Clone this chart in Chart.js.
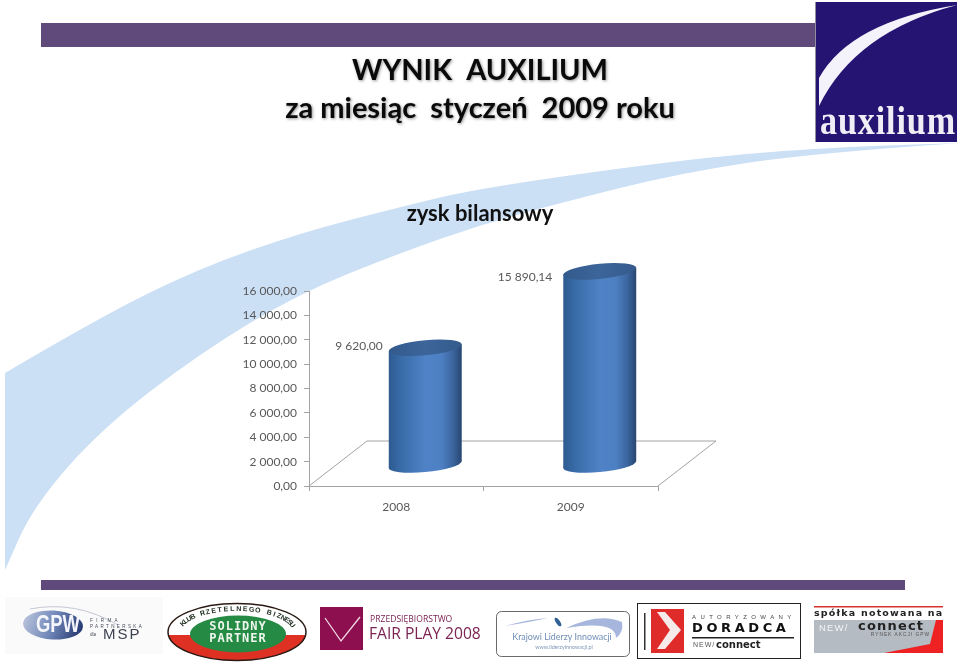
<!DOCTYPE html>
<html><head><meta charset="utf-8">
<style>html,body{margin:0;padding:0;background:#fff;overflow:hidden}canvas{display:block}</style>
<script src="https://cdn.jsdelivr.net/npm/chart.js@4"></script>
</head><body><canvas id="c" width="960" height="666"></canvas>
<script>
const categories = ['2008', '2009'];
const seriesValues = [9620.00, 15890.14];
const valueLabels = ['9 620,00', '15 890,14'];
const yTickLabels = ['0,00', '2 000,00', '4 000,00', '6 000,00', '8 000,00', '10 000,00', '12 000,00', '14 000,00', '16 000,00'];
const titleLines = ['WYNIK  AUXILIUM', 'za miesiąc  styczeń  2009 roku'];
const subtitleText = 'zysk bilansowy';

const DEPTH_X = 29, DEPTH_Y = -21, SHEAR = -0.095, CAP_RY = 7.6;
const FLOOR_DX = 58, FLOOR_DY = -45;
const LABEL_GAP = [6, 11], LABEL_DY = [-2, 6];
const TICK_COLOR = '#a3a3a3', TEXT_COLOR = '#595959';

function smooth(ctx, pts, start) {
  if (start) ctx.moveTo(pts[0][0], pts[0][1]);
  for (let i = 1; i < pts.length - 1; i++) {
    const mx = (pts[i][0] + pts[i + 1][0]) / 2, my = (pts[i][1] + pts[i + 1][1]) / 2;
    ctx.quadraticCurveTo(pts[i][0], pts[i][1], mx, my);
  }
  const l = pts[pts.length - 1];
  ctx.lineTo(l[0], l[1]);
}
function t(ctx, s, x, y, font, color, align, spacing, maxW) {
  ctx.font = font; ctx.fillStyle = color; ctx.textAlign = align || 'left'; ctx.textBaseline = 'middle';
  ctx.letterSpacing = spacing || '0px';
  if (maxW) ctx.fillText(s, x, y, maxW); else ctx.fillText(s, x, y);
  ctx.letterSpacing = '0px';
}
function arcText(ctx, s, cx, cy, rx, ry, a0, a1, font, color) {
  ctx.font = font; ctx.fillStyle = color; ctx.textAlign = 'center'; ctx.textBaseline = 'middle';
  const n = s.length;
  for (let i = 0; i < n; i++) {
    const a = a0 + (a1 - a0) * i / (n - 1);
    const x = cx + rx * Math.cos(a), y = cy + ry * Math.sin(a);
    const tang = Math.atan2(ry * Math.cos(a), -rx * Math.sin(a)) ;
    ctx.save(); ctx.translate(x, y); ctx.rotate(tang); ctx.fillText(s[i], 0, 0); ctx.restore();
  }
}

function drawBackground(ctx) {
  ctx.fillStyle = '#fff'; ctx.fillRect(0, 0, 960, 666);
  const upper = [[5, 373], [100, 317], [200, 268], [300, 233], [400, 207], [480, 188], [680, 160], [813, 148], [960, 143]];
  const lower = [[960, 143], [813, 153], [680, 173], [560, 203], [480, 225], [400, 253], [300, 293], [200, 353], [100, 430], [33, 507], [5, 570]];
  ctx.beginPath(); smooth(ctx, upper, true); smooth(ctx, lower, false); ctx.closePath();
  ctx.fillStyle = '#cbdff5'; ctx.fill();
  ctx.fillStyle = '#604a7b';
  ctx.fillRect(41, 23, 775, 24);
  ctx.fillRect(41, 580, 864, 10);
}

function drawLogos(ctx) {
  // Auxilium
  ctx.fillStyle = '#261473'; ctx.fillRect(815, 2, 142, 140);
  ctx.fillStyle = '#8f8f9f'; ctx.fillRect(815, 2, 1, 140);
  ctx.beginPath(); ctx.moveTo(819, 106);
  ctx.lineTo(819, 78);
  ctx.quadraticCurveTo(850, 22, 957, 5);
  ctx.quadraticCurveTo(855, 32, 819, 106);
  ctx.closePath(); ctx.fillStyle = '#f4f2fa'; ctx.fill();
  t(ctx, 'auxilium', 888, 124, 'bold 39px "Liberation Serif"', '#efeef6', 'center', '1px', 136);

  // GPW
  ctx.fillStyle = '#fafafa'; ctx.fillRect(5, 597, 158, 57);
  ctx.save(); ctx.translate(53, 625); ctx.rotate(0.06);
  ctx.beginPath(); ctx.ellipse(0, 0, 30, 14.5, 0, 0, 7);
  const g = ctx.createLinearGradient(-30, -10, 30, 10);
  g.addColorStop(0, '#bcc6dd'); g.addColorStop(0.5, '#6f86b8'); g.addColorStop(1, '#1f3169');
  ctx.fillStyle = g; ctx.fill(); ctx.restore();
  ctx.strokeStyle = '#c4c8d4'; ctx.lineWidth = 1;
  ctx.beginPath(); ctx.moveTo(30, 609); ctx.quadraticCurveTo(75, 600, 118, 625); ctx.stroke();
  t(ctx, 'GPW', 58, 625, 'bold 24px "Liberation Sans"', '#f4f6fb', 'center', '0px', 44);
  t(ctx, 'FIRMA', 90, 621, '4.5px "Liberation Sans"', '#444a58', 'left', '3.4px');
  t(ctx, 'PARTNERSKA', 90, 627, '4.5px "Liberation Sans"', '#444a58', 'left', '2.4px');
  t(ctx, 'dla', 90, 635, '4.5px "Liberation Sans"', '#444a58');
  t(ctx, 'MSP', 103, 635, '15px "Liberation Sans"', '#3c4250', 'left', '2px');

  // Solidny partner
  ctx.beginPath(); ctx.ellipse(237, 632, 69, 28.5, 0, 0, 7); ctx.fillStyle = '#fff'; ctx.fill();
  ctx.save(); ctx.clip(); ctx.fillStyle = '#de3124'; ctx.fillRect(160, 635, 160, 30); ctx.restore();
  ctx.strokeStyle = '#2b1a14'; ctx.lineWidth = 1.5; ctx.stroke();
  ctx.beginPath(); ctx.ellipse(238, 634, 48, 18.5, 0, 0, 7); ctx.fillStyle = '#248a44'; ctx.fill();
  t(ctx, 'SOLIDNY', 238, 627, 'bold 12px "DejaVu Sans Mono"', '#eef6ee', 'center', '1px');
  t(ctx, 'PARTNER', 238, 639, 'bold 12px "DejaVu Sans Mono"', '#eef6ee', 'center', '1px');
  arcText(ctx, 'KLUB RZETELNEGO BIZNESU', 237, 632, 58, 23, Math.PI * 1.12, Math.PI * 1.9, 'bold 7px "Liberation Sans"', '#1d2a1d');

  // Fair play
  ctx.fillStyle = '#8d0f4f'; ctx.fillRect(320, 607, 43, 43);
  ctx.strokeStyle = '#f2dbe5'; ctx.lineWidth = 1.3;
  ctx.beginPath(); ctx.moveTo(325, 618); ctx.lineTo(341, 641); ctx.lineTo(360, 617); ctx.stroke();
  t(ctx, 'PRZEDSIĘBIORSTWO', 370, 620, '8.6px "Open Sans"', '#7b2353');
  t(ctx, 'FAIR PLAY 2008', 369, 635, '15.6px "Open Sans"', '#7b2353');

  // Liderzy
  ctx.beginPath(); ctx.roundRect(496.5, 611.5, 133, 45, 5); ctx.fillStyle = '#fff'; ctx.fill();
  ctx.strokeStyle = '#444'; ctx.lineWidth = 0.8; ctx.stroke();
  ctx.fillStyle = '#a7b6dc';
  ctx.beginPath(); ctx.moveTo(505, 626); ctx.quadraticCurveTo(530, 619, 548, 618); ctx.quadraticCurveTo(530, 622, 505, 626); ctx.fill();
  ctx.beginPath(); ctx.moveTo(566, 628); ctx.quadraticCurveTo(600, 612, 622, 622); ctx.quadraticCurveTo(624, 632, 616, 638); ctx.quadraticCurveTo(616, 620, 566, 628); ctx.fill();
  ctx.fillStyle = '#2f5f93'; ctx.beginPath(); ctx.ellipse(558, 622, 2, 5, -0.6, 0, 7); ctx.fill();
  t(ctx, 'Krajowi Liderzy Innowacji', 562, 637, '8.9px "Lato"', '#6f8db5', 'center');
  t(ctx, 'www.liderzyinnowacji.pl', 564, 647, '5.4px "Lato"', '#7f97b9', 'center');

  // Doradca
  ctx.fillStyle = '#fff'; ctx.fillRect(638, 604, 162, 54);
  ctx.strokeStyle = '#222'; ctx.lineWidth = 1; ctx.strokeRect(637.5, 603.5, 163, 55);
  ctx.fillStyle = '#333'; ctx.fillRect(644, 613, 1.5, 37);
  ctx.fillStyle = '#e02b2b'; ctx.fillRect(651, 609, 33, 44);
  ctx.fillStyle = '#f6eaea';
  ctx.beginPath(); ctx.moveTo(657, 612); ctx.lineTo(665, 612); ctx.lineTo(681, 630); ctx.lineTo(665, 649); ctx.lineTo(657, 649); ctx.lineTo(670, 630); ctx.closePath(); ctx.fill();
  t(ctx, 'AUTORYZOWANY', 692, 617, '6px "Liberation Sans"', '#444', 'left', '4.4px');
  t(ctx, 'DORADCA', 692, 628.5, 'bold 13px "DejaVu Sans"', '#111', 'left', '3.6px');
  ctx.fillStyle = '#222'; ctx.fillRect(692, 637, 102, 1.5);
  t(ctx, 'NEW/', 693, 645, '7px "Liberation Sans"', '#555', 'left', '1px');
  t(ctx, 'connect', 716, 645, 'bold 10px "DejaVu Sans"', '#222');

  // Spolka
  ctx.fillStyle = '#d8322c'; ctx.fillRect(814, 606, 129, 1.5);
  t(ctx, 'spółka notowana na', 814, 614, 'bold 9.5px "DejaVu Sans"', '#222', 'left', '1.2px');
  ctx.fillStyle = '#b4bbc3'; ctx.fillRect(814, 620, 129, 33);
  ctx.fillStyle = '#ee2222';
  ctx.beginPath(); ctx.moveTo(936, 620); ctx.lineTo(943, 620); ctx.lineTo(943, 653); ctx.lineTo(884, 653); ctx.lineTo(930, 644); ctx.closePath(); ctx.fill();
  t(ctx, 'NEW/', 819, 628, '9.5px "Liberation Sans"', '#f4f4f4', 'left', '1.2px');
  t(ctx, 'connect', 858, 627, 'bold 13px "DejaVu Sans"', '#222', 'left', '1.2px');
  t(ctx, 'RYNEK AKCJI GPW', 930, 635, '4.8px "Liberation Sans"', '#555', 'right', '1px');
}

const cylinderPlugin = {
  id: 'cylinder',
  beforeDraw(chart) {
    const ctx = chart.ctx;
    ctx.save(); drawBackground(ctx); drawLogos(ctx); ctx.restore();
    const tb = chart.titleBlock;
    if (tb && !tb.$wrapped) {
      const d = tb.draw;
      tb.draw = function () {
        ctx.save();
        ctx.shadowColor = 'rgba(60,60,60,0.55)'; ctx.shadowBlur = 3; ctx.shadowOffsetX = 1; ctx.shadowOffsetY = 1;
        d.apply(this, arguments);
        ctx.restore();
      };
      tb.$wrapped = true;
    }
  },
  beforeDatasetsDraw(chart) {
    const ctx = chart.ctx, a = chart.chartArea;
    ctx.save();
    ctx.strokeStyle = TICK_COLOR; ctx.lineWidth = 1;
    ctx.beginPath();
    ctx.moveTo(a.left, a.bottom);
    ctx.lineTo(a.left + FLOOR_DX, a.bottom + FLOOR_DY);
    ctx.lineTo(a.right + FLOOR_DX, a.bottom + FLOOR_DY);
    ctx.lineTo(a.right, a.bottom);
    ctx.stroke();
    ctx.restore();
    chart.getDatasetMeta(0).data.forEach(el => {
      if (el.$wrapped) return;
      const orig = el.draw;
      el.draw = function (c) {
        const rx = this.width / 2;
        c.save();
        c.translate(DEPTH_X, DEPTH_Y);
        c.transform(1, SHEAR, 0, 1, 0, -SHEAR * this.x);
        c.beginPath(); c.ellipse(this.x, this.base, rx, CAP_RY, 0, 0, Math.PI * 2);
        c.fillStyle = this.options.backgroundColor; c.fill();
        orig.apply(this, arguments);
        c.beginPath(); c.ellipse(this.x, this.y, rx, CAP_RY, 0, 0, Math.PI * 2);
        const g = c.createLinearGradient(this.x - rx, 0, this.x + rx, 0);
        g.addColorStop(0, '#345a8c'); g.addColorStop(0.5, '#3c659b'); g.addColorStop(1, '#355b8c');
        c.fillStyle = g; c.fill();
        c.restore();
      };
      el.$wrapped = true;
    });
  },
  afterDatasetsDraw(chart) {
    const ctx = chart.ctx;
    chart.getDatasetMeta(0).data.forEach((el, i) => {
      ctx.save();
      t(ctx, valueLabels[i], el.x + DEPTH_X - el.width / 2 - LABEL_GAP[i], el.y + DEPTH_Y + LABEL_DY[i] , '12px Lato', TEXT_COLOR, 'right');
      ctx.restore();
    });
  }
};

new Chart(document.getElementById('c'), {
  type: 'bar',
  plugins: [cylinderPlugin],
  data: {
    labels: categories,
    datasets: [{
      data: seriesValues,
      borderWidth: 0,
      clip: false,
      barPercentage: 0.418,
      categoryPercentage: 1,
      backgroundColor(ctx) {
        const s = ctx.chart.scales.x;
        const cx = s && ctx.dataIndex !== undefined ? s.getPixelForValue(ctx.dataIndex) : NaN;
        if (!Number.isFinite(cx)) return '#4f81bd';
        const w = 36.5;
        const g = ctx.chart.ctx.createLinearGradient(cx - w, 0, cx + w, 0);
        g.addColorStop(0, '#2e5a91'); g.addColorStop(0.15, '#376aa6'); g.addColorStop(0.5, '#4f82c6');
        g.addColorStop(0.72, '#4d80c3'); g.addColorStop(0.88, '#3b659e'); g.addColorStop(1, '#274672');
        return g;
      }
    }]
  },
  options: {
    responsive: false,
    animation: false,
    devicePixelRatio: 1,
    layout: { padding: 0 },
    plugins: {
      legend: { display: false },
      tooltip: { enabled: false },
      title: {
        display: true, text: titleLines, color: '#0a0a0a',
        font: { family: 'Lato', weight: 'bold', size: 29, lineHeight: 38 / 29 },
        padding: { top: 52, bottom: 0 }
      },
      subtitle: {
        display: true, text: subtitleText, color: '#111',
        font: { family: 'Lato', weight: 'bold', size: 22, lineHeight: 24 / 22 },
        padding: { top: 74, bottom: 65 }
      }
    },
    scales: {
      x: {
        position: 'bottom',
        afterFit(s) { s.height = 180; },
        grid: { drawOnChartArea: false, drawTicks: true, tickLength: 5, color: TICK_COLOR },
        border: { color: TICK_COLOR },
        ticks: { color: TEXT_COLOR, font: { family: 'Lato', size: 12 }, padding: 9, maxRotation: 0 }
      },
      y: {
        position: 'left',
        min: 0, max: 16000,
        afterFit(s) { s.width = 309; },
        afterBuildTicks(s) { s.ticks = yTickLabels.map((_, i) => ({ value: i * 2000 })); },
        grid: { drawOnChartArea: false, drawTicks: true, tickLength: 5, color: TICK_COLOR },
        border: { color: TICK_COLOR },
        ticks: { color: TEXT_COLOR, font: { family: 'Lato', size: 12 }, padding: 7, callback(v, i) { return yTickLabels[i]; } }
      },
      y1: {
        position: 'right',
        afterFit(s) { s.width = 302; },
        grid: { display: false }, border: { display: false },
        ticks: { display: false }
      }
    }
  }
});
</script></body></html>
